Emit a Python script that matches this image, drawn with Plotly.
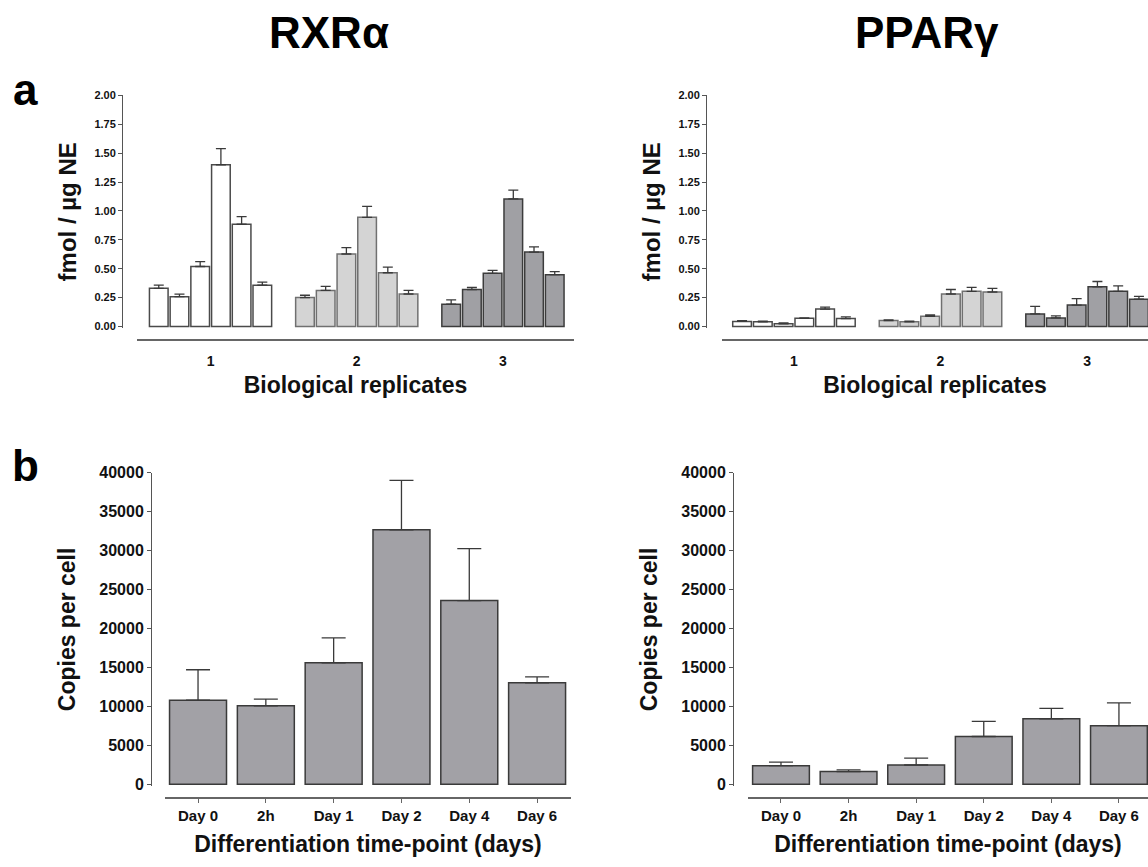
import plotly.graph_objects as go

W, H = 1148, 867

# ---------------- data ----------------
replicates = ["1", "2", "3"]
timepoints = ["Day 0", "2h", "Day 1", "Day 2", "Day 4", "Day 6"]

# Panel a: fmol / µg NE, 6 time points per biological replicate
rxr_rep1 = [0.33, 0.258, 0.519, 1.40, 0.885, 0.357]
rxr_rep1_err = [0.027, 0.022, 0.043, 0.14, 0.065, 0.026]
rxr_rep2 = [0.25, 0.312, 0.627, 0.945, 0.465, 0.281]
rxr_rep2_err = [0.02, 0.034, 0.056, 0.095, 0.048, 0.031]
rxr_rep3 = [0.193, 0.32, 0.46, 1.104, 0.644, 0.448]
rxr_rep3_err = [0.037, 0.018, 0.025, 0.076, 0.045, 0.026]

ppar_rep1 = [0.043, 0.04, 0.023, 0.071, 0.15, 0.068]
ppar_rep1_err = [0.007, 0.005, 0.008, 0.003, 0.017, 0.014]
ppar_rep2 = [0.051, 0.04, 0.088, 0.281, 0.304, 0.298]
ppar_rep2_err = [0.006, 0.005, 0.012, 0.039, 0.034, 0.032]
ppar_rep3 = [0.108, 0.074, 0.185, 0.343, 0.304, 0.236]
ppar_rep3_err = [0.065, 0.017, 0.056, 0.046, 0.047, 0.025]

# Panel b: copies per cell
rxr_copies = [10800, 10080, 15600, 32650, 23570, 13020]
rxr_copies_err = [3900, 850, 3180, 6340, 6680, 760]
ppar_copies = [2400, 1640, 2480, 6140, 8400, 7520]
ppar_copies_err = [460, 210, 880, 1930, 1350, 2940]

top_ticks = [0, 0.25, 0.5, 0.75, 1.0, 1.25, 1.5, 1.75, 2.0]
bottom_ticks = [0, 5000, 10000, 15000, 20000, 25000, 30000, 35000, 40000]

# ---------------- styles ----------------
FONT = "Liberation Sans, Arial, Helvetica, sans-serif"
group_fill = ["#ffffff", "#d4d4d4", "#a0a0a4"]
group_line = ["#4a4a4a", "#707070", "#3c3c3c"]
ERR_COL = "#3a3a3a"
TXT = "#111111"


def px_x(p):
    return p / W


def px_y(p):
    return (H - p) / H


fig = go.Figure()


def add_top(reps, errs, xa, ya):
    for k in range(len(timepoints)):
        fig.add_trace(go.Bar(
            x=replicates,
            y=[r[k] for r in reps],
            name=timepoints[k],
            marker=dict(color=group_fill, line=dict(color=group_line, width=1.5)),
            error_y=dict(type="data", symmetric=False,
                         array=[e[k] for e in errs],
                         arrayminus=[0, 0, 0],
                         color=ERR_COL, thickness=1.3, width=5),
            xaxis=xa, yaxis=ya, showlegend=False,
        ))


add_top([rxr_rep1, rxr_rep2, rxr_rep3], [rxr_rep1_err, rxr_rep2_err, rxr_rep3_err], "x", "y")
add_top([ppar_rep1, ppar_rep2, ppar_rep3], [ppar_rep1_err, ppar_rep2_err, ppar_rep3_err], "x2", "y2")


def add_bottom(vals, errs, xa, ya):
    fig.add_trace(go.Bar(
        x=timepoints, y=vals, width=0.84,
        marker=dict(color="#a2a1a6", line=dict(color="#3a3a3a", width=1.5)),
        error_y=dict(type="data", symmetric=False, array=errs,
                     arrayminus=[0] * len(vals),
                     color=ERR_COL, thickness=1.3, width=12),
        xaxis=xa, yaxis=ya, showlegend=False,
    ))


add_bottom(rxr_copies, rxr_copies_err, "x3", "y3")
add_bottom(ppar_copies, ppar_copies_err, "x4", "y4")


def top_x(dom, pos, rng):
    return dict(domain=dom, anchor="free", position=pos, range=rng,
                showline=True, linecolor="#666666", linewidth=1.5,
                ticks="", showgrid=False, zeroline=False,
                ticklabelstandoff=8,
                tickfont=dict(family=FONT, size=14, color=TXT, weight="bold"),
                title=dict(text="Biological replicates", standoff=8,
                           font=dict(family=FONT, size=23, color=TXT, weight="bold")))


def top_y(dom, pos):
    return dict(domain=dom, anchor="free", position=pos, range=[-0.015, 2.0],
                tickvals=top_ticks, tickformat=".2f",
                showline=True, linecolor="#555555", linewidth=1,
                ticks="outside", ticklen=4, tickcolor="#555555",
                showgrid=False, zeroline=False,
                tickfont=dict(family=FONT, size=11, color=TXT, weight="bold"),
                title=dict(text="fmol / µg NE", standoff=9,
                           font=dict(family=FONT, size=24, color=TXT, weight="bold")))


def bot_x(dom, pos, rng):
    return dict(domain=dom, anchor="free", position=pos, range=rng,
                showline=True, linecolor="#666666", linewidth=1.5,
                ticks="outside", ticklen=4, tickcolor="#666666",
                showgrid=False, zeroline=False, ticklabelstandoff=0,
                tickfont=dict(family=FONT, size=15, color=TXT, weight="bold"),
                title=dict(text="Differentiation time-point (days)", standoff=12,
                           font=dict(family=FONT, size=23, color=TXT, weight="bold")))


def bot_y(dom, pos):
    return dict(domain=dom, anchor="free", position=pos, range=[-250, 40000],
                tickvals=bottom_ticks, tickformat="d",
                showline=True, linecolor="#555555", linewidth=1,
                ticks="outside", ticklen=4, tickcolor="#555555",
                showgrid=False, zeroline=False,
                tickfont=dict(family=FONT, size=16, color=TXT, weight="bold"),
                title=dict(text="Copies per cell", standoff=16,
                           font=dict(family=FONT, size=23, color=TXT, weight="bold")))


top_ydom = [px_y(325.8), px_y(89)]
bot_ydom = [px_y(792), px_y(472.7)]

fig.update_layout(
    width=W, height=H,
    margin=dict(l=0, r=0, t=0, b=0),
    paper_bgcolor="white", plot_bgcolor="white",
    barmode="group", bargap=0.15, bargroupgap=0.1,
    font=dict(family=FONT, color=TXT),
    xaxis=top_x([px_x(137), px_x(574)], px_y(338), [-0.503, 2.486]),
    yaxis=top_y(top_ydom, px_x(122)),
    xaxis2=top_x([px_x(722), 1.0], px_y(338), [-0.491, 2.416]),
    yaxis2=top_y(top_ydom, px_x(706)),
    xaxis3=bot_x([px_x(165), px_x(571)], px_y(804), [-0.487, 5.5]),
    yaxis3=bot_y(bot_ydom, px_x(151)),
    xaxis4=bot_x([px_x(748), 1.0], px_y(804), [-0.488, 5.43]),
    yaxis4=bot_y(bot_ydom, px_x(733)),
)

ann = [
    ("RXRα", 329, 25, 44),
    ("PPARγ", 927, 25, 44),
    ("a", 25, 83, 44),
    ("b", 25, 466, 44),
]
for text, x, y, s in ann:
    fig.add_annotation(text=text, x=px_x(x), y=px_y(y), xref="paper", yref="paper",
                       xanchor="center", yanchor="middle", showarrow=False,
                       font=dict(family=FONT, size=s, color="#000000", weight="bold"))

fig.write_html(
    "out.html",
    config={"displayModeBar": False},
    post_script="document.body.style.margin='0';document.body.style.overflow='hidden';",
)
